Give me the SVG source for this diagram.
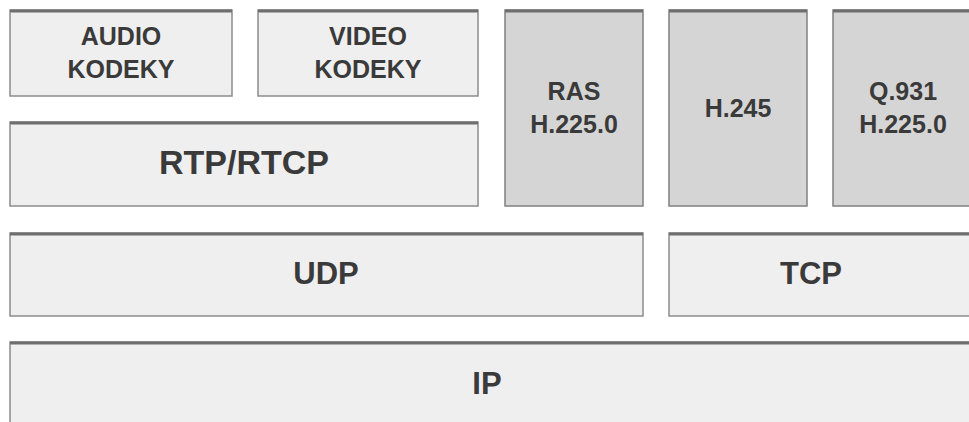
<svg xmlns="http://www.w3.org/2000/svg" width="969" height="422" viewBox="0 0 969 422">
<style>
.light{fill:#efefef;stroke:#8c8c8c;stroke-width:1.5}
.dark{fill:#d5d5d5;stroke:#808080;stroke-width:1.5}
.top{stroke:#6e6e6e;stroke-width:3}
text{font-family:"Liberation Sans",Arial,sans-serif;font-weight:bold;fill:#3a3a3a;text-anchor:middle}
.s{font-size:25px}
.m{font-size:31px}
.l{font-size:34px}
</style>
<rect width="969" height="422" fill="#ffffff"/>
<g id="audio">
<rect class="light" x="10" y="10" width="222" height="86"/>
<line class="top" x1="10" y1="11" x2="232" y2="11"/>
<text class="s" x="121" y="45">AUDIO</text>
<text class="s" x="121" y="78">KODEKY</text>
</g>
<g id="video">
<rect class="light" x="258" y="10" width="220" height="86"/>
<line class="top" x1="258" y1="11" x2="478" y2="11"/>
<text class="s" x="368" y="45">VIDEO</text>
<text class="s" x="368" y="78">KODEKY</text>
</g>
<g id="rtp">
<rect class="light" x="10" y="122" width="468" height="84"/>
<line class="top" x1="10" y1="123" x2="478" y2="123"/>
<text class="l" x="244" y="174">RTP/RTCP</text>
</g>
<g id="ras">
<rect class="dark" x="505" y="10" width="138" height="196"/>
<line class="top" x1="505" y1="11" x2="643" y2="11"/>
<text class="s" x="574" y="100">RAS</text>
<text class="s" x="574" y="133">H.225.0</text>
</g>
<g id="h245">
<rect class="dark" x="669" y="10" width="138" height="196"/>
<line class="top" x1="669" y1="11" x2="807" y2="11"/>
<text class="s" x="738" y="117">H.245</text>
</g>
<g id="q931">
<rect class="dark" x="833" y="10" width="140" height="196"/>
<line class="top" x1="833" y1="11" x2="973" y2="11"/>
<text class="s" x="903" y="100">Q.931</text>
<text class="s" x="903" y="133">H.225.0</text>
</g>
<g id="udp">
<rect class="light" x="10" y="233" width="633" height="83"/>
<line class="top" x1="10" y1="234" x2="643" y2="234"/>
<text class="m" x="326" y="284">UDP</text>
</g>
<g id="tcp">
<rect class="light" x="669" y="233" width="304" height="83"/>
<line class="top" x1="669" y1="234" x2="973" y2="234"/>
<text class="m" x="811" y="284">TCP</text>
</g>
<g id="ip">
<rect class="light" x="10" y="342" width="963" height="90"/>
<line class="top" x1="10" y1="343" x2="973" y2="343"/>
<text class="m" x="487" y="394">IP</text>
</g>
<g id="connectors"></g>
</svg>
